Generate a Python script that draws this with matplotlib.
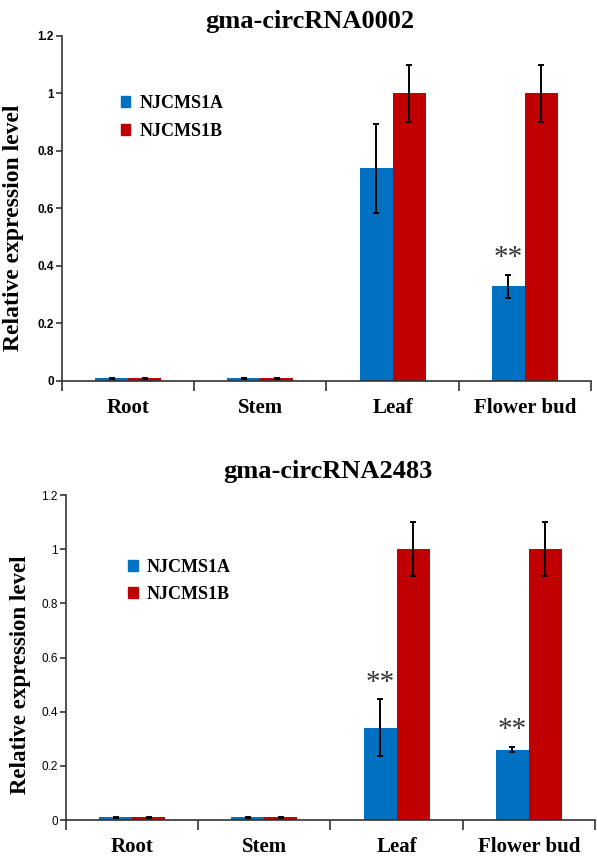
import numpy as np
import matplotlib
matplotlib.use('Agg')
import matplotlib.pyplot as plt
from matplotlib.patches import Patch

tissues = ['Root', 'Stem', 'Leaf', 'Flower bud']
series = ['NJCMS1A', 'NJCMS1B']

# gma-circRNA0002
a_0002 = [0.01, 0.01, 0.74, 0.33]
a_0002_err = [0.002, 0.002, 0.155, 0.04]
b_0002 = [0.01, 0.01, 1.0, 1.0]
b_0002_err = [0.002, 0.002, 0.1, 0.1]
sig_0002 = ['', '', '', '**']

# gma-circRNA2483
a_2483 = [0.01, 0.01, 0.34, 0.26]
a_2483_err = [0.002, 0.002, 0.105, 0.01]
b_2483 = [0.01, 0.01, 1.0, 1.0]
b_2483_err = [0.002, 0.002, 0.1, 0.1]
sig_2483 = ['', '', '**', '**']

blue = '#0070C0'
red = '#C00000'
serif = 'Liberation Serif'
sans = 'Liberation Sans'


def draw_panel(ax, title, a, a_err, b, b_err, sig, opts):
    x = np.arange(len(tissues))
    w = 0.25
    ax.bar(x - w / 2, a, w, color=blue, edgecolor='none')
    ax.bar(x + w / 2, b, w, color=red, edgecolor='none')
    ax.errorbar(x - w / 2, a, yerr=a_err, fmt='none', ecolor='black',
                elinewidth=1.4, capsize=2, capthick=1.4)
    ax.errorbar(x + w / 2, b, yerr=b_err, fmt='none', ecolor='black',
                elinewidth=1.4, capsize=2, capthick=1.4)

    # significance marks above the NJCMS1A bars
    for i, s in enumerate(sig):
        if s:
            ax.annotate(s, (x[i] - w / 2, a[i] + a_err[i]), xytext=(0, 12),
                        textcoords='offset points', ha='center', va='center',
                        fontsize=21, family=serif, color='#333333')

    ax.set_xlim(-0.5, 3.5)
    ax.set_ylim(0, 1.2)
    ax.set_yticks([0, 0.2, 0.4, 0.6, 0.8, 1.0, 1.2])
    ax.set_yticklabels(['0', '0.2', '0.4', '0.6', '0.8', '1', '1.2'])
    for lab in ax.get_yticklabels():
        lab.set_family(sans)
        lab.set_fontsize(opts['tick_size'])
        lab.set_fontweight(opts['tick_weight'])

    # group boundaries as major ticks, names on minor ticks
    ax.set_xticks(np.arange(-0.5, 4.0, 1.0))
    ax.set_xticklabels([])
    ax.set_xticks(x, minor=True)
    ax.set_xticklabels(tissues, minor=True, family=serif, fontweight='bold',
                       fontsize=15)
    ax.tick_params(axis='x', which='major', direction='out', length=7,
                   width=1.2, color='#333333')
    ax.tick_params(axis='x', which='minor', length=0, pad=12)
    ax.tick_params(axis='y', direction='out', length=4, width=1.2,
                   color='#333333', pad=2)

    for side in ['top', 'right']:
        ax.spines[side].set_visible(False)
    for side in ['left', 'bottom']:
        ax.spines[side].set_linewidth(1.2)
        ax.spines[side].set_color('#333333')

    ax.set_ylabel('Relative expression level', family=serif,
                  fontweight='bold', fontsize=opts['ylab_size'])
    ax.yaxis.set_label_coords(opts['ylab_x'], opts['ylab_y'])
    ax.set_title(title, family=serif, fontweight='bold', fontsize=19,
                 x=opts['title_x'], pad=opts['title_pad'])

    handles = [Patch(color=blue, label=series[0]),
               Patch(color=red, label=series[1])]
    ax.legend(handles=handles, loc='upper left',
              bbox_to_anchor=opts['legend_anchor'],
              frameon=False, handlelength=0.55, handleheight=0.55,
              handletextpad=0.5, labelspacing=opts['legend_spacing'],
              borderaxespad=0,
              prop={'family': serif, 'weight': 'bold', 'size': 13})


fig = plt.figure(figsize=(5.97, 8.59), dpi=100)
ax1 = fig.add_axes([0.1039, 0.5565, 0.886, 0.4016])
ax2 = fig.add_axes([0.1106, 0.0454, 0.886, 0.3783])

draw_panel(ax1, 'gma-circRNA0002', a_0002, a_0002_err, b_0002, b_0002_err,
           sig_0002, dict(tick_size=8.5, tick_weight='bold', ylab_x=-0.071,
                          ylab_y=0.443, ylab_size=17, title_x=0.469,
                          title_pad=6, legend_anchor=(0.097, 0.85),
                          legend_spacing=0.6))
draw_panel(ax2, 'gma-circRNA2483', a_2483, a_2483_err, b_2483, b_2483_err,
           sig_2483, dict(tick_size=8.5, tick_weight='normal', ylab_x=-0.066,
                          ylab_y=0.446, ylab_size=16.5, title_x=0.495,
                          title_pad=12, legend_anchor=(0.103, 0.825),
                          legend_spacing=0.55))

fig.savefig('out.png', dpi=100)
